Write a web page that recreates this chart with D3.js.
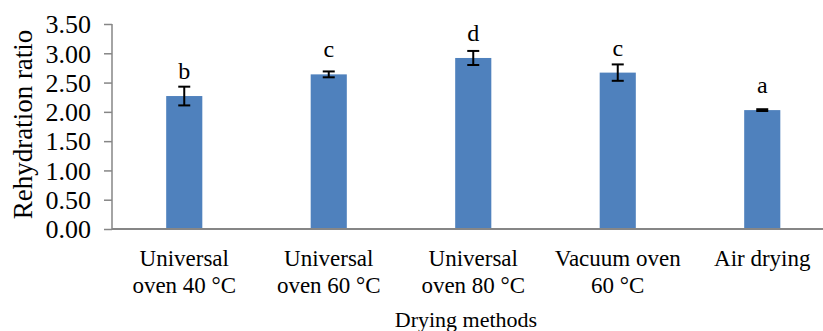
<!DOCTYPE html>
<html>

<head>
	<meta charset="UTF-8">
	<title>Rehydration ratio</title>
	<script src="https://cdn.jsdelivr.net/npm/d3@7"></script>
	<style>
		body {
			margin: 0;
			background: #fff;
		}

		svg {
			display: block;
			font-family: "Liberation Serif", "Times New Roman", serif;
		}

		.axis path,
		.axis line {
			stroke: #868686;
			stroke-width: 1.5px;
		}

		.axis text {
			fill: #000;
			font-family: "Liberation Serif", "Times New Roman", serif;
			font-size: 26px;
		}

		.bar {
			fill: #4f81bd;
		}

		.err {
			stroke: #000;
			stroke-width: 2px;
		}

		.cat,
		.sig,
		.title {
			fill: #000;
		}
	</style>
</head>

<body>
	<svg id="chart" width="823" height="331"></svg>

	<script>
		const methods = [
			['Universal', 'oven 40 °C'],
			['Universal', 'oven 60 °C'],
			['Universal', 'oven 80 °C'],
			['Vacuum oven', '60 °C'],
			['Air drying']
		];
		const means = [2.27, 2.64, 2.92, 2.67, 2.03];
		const errors = [0.16, 0.05, 0.12, 0.14, 0.015];
		const letters = ['b', 'c', 'd', 'c', 'a'];
		const yTicks = [0, 0.5, 1, 1.5, 2, 2.5, 3, 3.5];

		const svg = d3.select('#chart');
		const plotLeft = 112, plotTop = 24, plotBottom = 229, step = 144.5;

		const x = d3.scaleBand()
			.domain(d3.range(means.length))
			.range([plotLeft, plotLeft + step * means.length])
			.paddingInner(0.75)
			.paddingOuter(0.375);

		const y = d3.scaleLinear()
			.domain([0, 3.5])
			.range([plotBottom, plotTop]);

		// y axis
		const ya = svg.append('g')
			.attr('class', 'axis')
			.attr('transform', `translate(${plotLeft},0)`)
			.call(d3.axisLeft(y).tickValues(yTicks).tickFormat(d3.format('.2f')).tickSize(8).tickPadding(13));
		ya.attr('font-family', null).attr('font-size', null);
		ya.select('.domain').attr('d', `M0,${plotTop}V${plotBottom}`);
		ya.selectAll('text').attr('dy', '0.34em');

		// bars
		svg.append('g').selectAll('rect')
			.data(means)
			.join('rect')
			.attr('class', 'bar')
			.attr('x', (d, i) => x(i))
			.attr('width', x.bandwidth())
			.attr('y', d => y(d))
			.attr('height', d => plotBottom - y(d));

		// x axis line
		svg.append('line')
			.attr('x1', plotLeft).attr('x2', 823)
			.attr('y1', plotBottom).attr('y2', plotBottom)
			.style('stroke', '#868686')
			.style('stroke-width', '2px');

		// error bars
		const eb = svg.append('g').selectAll('g')
			.data(means)
			.join('g')
			.attr('transform', (d, i) => `translate(${x(i) + x.bandwidth() / 2},0)`);
		eb.append('line').attr('class', 'err')
			.attr('y1', (d, i) => y(d + errors[i]))
			.attr('y2', (d, i) => y(d - errors[i]));
		eb.append('line').attr('class', 'err')
			.attr('x1', -6).attr('x2', 6)
			.attr('y1', (d, i) => y(d + errors[i]))
			.attr('y2', (d, i) => y(d + errors[i]));
		eb.append('line').attr('class', 'err')
			.attr('x1', -6).attr('x2', 6)
			.attr('y1', (d, i) => y(d - errors[i]))
			.attr('y2', (d, i) => y(d - errors[i]));

		// significance letters
		svg.append('g').selectAll('text')
			.data(letters)
			.join('text')
			.attr('class', 'sig')
			.attr('x', (d, i) => x(i) + x.bandwidth() / 2)
			.attr('y', (d, i) => y(means[i]) - 17)
			.attr('text-anchor', 'middle')
			.style('font-size', '24px')
			.text(d => d);

		// category labels
		const cats = svg.append('g').selectAll('text')
			.data(methods)
			.join('text')
			.attr('class', 'cat')
			.attr('text-anchor', 'middle')
			.style('font-size', '23px')
			.attr('transform', (d, i) => `translate(${x(i) + x.bandwidth() / 2},266)`);
		cats.selectAll('tspan')
			.data(d => d)
			.join('tspan')
			.attr('x', 0)
			.attr('y', (d, j) => j * 27)
			.text(d => d);

		// axis titles
		svg.append('text')
			.attr('class', 'title')
			.attr('text-anchor', 'middle')
			.attr('x', 466).attr('y', 327)
			.style('font-size', '22px')
			.text('Drying methods');

		svg.append('text')
			.attr('class', 'title')
			.attr('text-anchor', 'middle')
			.attr('transform', `translate(32,${(plotTop + plotBottom) / 2 - 2}) rotate(-90)`)
			.style('font-size', '27px')
			.text('Rehydration ratio');
	</script>
</body>

</html>
